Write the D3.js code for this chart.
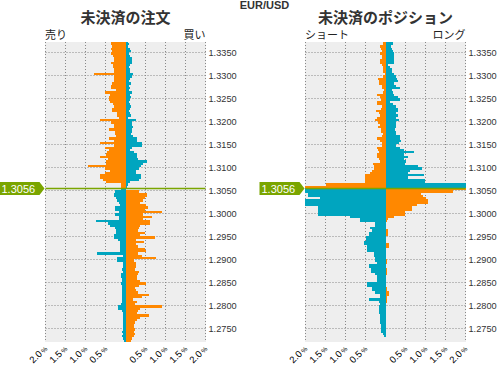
<!DOCTYPE html>
<html><head><meta charset="utf-8">
<script src="https://cdn.jsdelivr.net/npm/d3@7"></script>
<style>html,body{margin:0;padding:0;background:#fff;} svg{display:block;}</style>
</head><body><svg id="c" width="497" height="365"></svg>
<script>
// ---------- data ----------
const pair = "EUR/USD";
const currentPrice = 1.3056;
const panelTitles = ["未決済の注文", "未決済のポジション"];
const sideLabels = [["売り", "買い"], ["ショート", "ロング"]];
const priceTicks = [1.3350, 1.3300, 1.3250, 1.3200, 1.3150, 1.3100, 1.3050, 1.3000, 1.2950, 1.2900, 1.2850, 1.2800, 1.2750];
const pctTicks = [-2, -1.5, -1, -0.5, 0, 0.5, 1, 1.5, 2];
const pctTickLabels = ["2.0", "1.5", "1.0", "0.5", "", "0.5", "1.0", "1.5", "2.0"];
const bucketTop = 1.3370;      // price of the first (highest) bucket
const bucketSize = 0.0005;     // bucket width in price
const priceMin = 1.2720, priceMax = 1.33725;

// open orders (%): left side / right side, from the top bucket down
const orderLeft = [0.37,
 0.375,0.35,0.36,0.35,0.375,0.32,0.30,0.30,0.375,0.32,0.325,0.28,0.30,0.80,0.30,0.30,0.28,0.34,0.36,0.375,
 0.25,0.525,0.40,0.42,0.425,0.40,0.325,0.30,0.35,0.35,0.225,0.22,0.175,0.65,0.375,0.28,0.28,0.425,0.275,0.27,
 0.25,0.425,0.28,0.65,0.30,0.525,0.42,0.47,0.48,0.65,0.44,0.50,0.48,0.95,0.52,0.40,0.51,0.65,0.65,
 0.57,0.50,0.125,0.125,
 0.11,
 0.275,0.30,0.30,0.25,0.21,0.175,0.15,0.275,0.275,0.175,0.275,0.175,0.175,0.75,0.45,0.38,0.275,0.25,0.25,0.30,
 0.30,0.20,0.15,0.15,0.15,0.15,0.15,0.72,0.075,0.225,
 0.225,0.075,0.075,0.075,0.10,0.075,0.12,0.125,0.10,0.10,0.125,0.10,0.10,0.10,0.10,0.10,0.10,0.10,0.10,
 0.12,0.20,0.20,0.08,0.06,0.06,0.06,0.06,0.06,0.06,0.06,0.06,0.08,0.06,0.08,0.06,0.05];
const orderRight = [0.07,
 0.075,0.067,0.10,0.125,0.083,0.117,0.15,0.15,0.15,0.117,0.083,0.10,0.117,0.175,0.167,0.10,0.083,0.125,0.083,0.10,
 0.09,0.15,0.117,0.125,0.10,0.083,0.10,0.125,0.11,0.09,0.117,0.125,0.05,0.25,0.15,0.16,0.175,0.15,0.15,0.133,
 0.183,0.275,0.283,0.40,0.40,0.15,0.117,0.20,0.275,0.275,0.31,0.525,0.43,0.38,0.33,0.25,0.25,0.375,0.375,
 0.325,0.117,0.05,0.04,
 0,
 0.325,0.54,0.54,0.475,0.43,0.35,0.52,0.57,0.475,0.92,0.44,0.67,0.43,0.62,0.62,0.37,0.33,0.32,0.475,0.35,
 0.74,0.27,0.47,0.27,0.30,0.49,0.50,0.32,0.40,0.77,
 0.20,0.25,0.25,0.25,0.225,0.34,0.30,0.275,0.28,0.37,0.52,0.33,0.24,0.25,0.32,0.58,0.40,0.19,0.28,
 0.24,0.92,0.36,0.30,0.28,0.59,0.35,0.28,0.24,0.20,0.20,0.24,0.22,0.24,0.20,0.15,0.13];

// open positions (%): left side / right side
const positionLeft = [0.07,
 0.067,0.15,0.125,0.10,0.15,0.10,0.10,0.15,0.15,0.10,0.067,0.067,0.067,0.025,0.067,0.20,0.175,0.175,0.10,0.10,
 0.04,0.067,0.225,0.15,0.12,0.225,0.225,0.10,0.12,0.25,0.17,0.15,0.225,0.275,0.20,0.15,0.20,0.125,0.125,0.067,
 0.10,0.225,0.15,0.10,0.10,0.225,0.20,0.17,0.225,0.225,0.175,0.15,0.325,0.30,0.30,0.35,0.40,0.525,0.525,
 0.525,0.525,1.48,2.5,
 2.5,2.5,1.93,1.93,1.63,2.5,2.5,2.5,1.69,1.69,1.69,1.69,0.9,0.65,0.65,0.275,0.275,0.4,0.33,0.425,
 0.425,0.5,0.5,0.55,0.55,0.47,0.47,0.47,0.3,0.3,0.275,0.275,0.22,0.425,0.425,0.37,0.37,0.275,0.22,0.22,
 0.22,0.47,0.47,0.35,0.35,0.275,0.15,0.15,0.425,0.17,0.15,0.17,0.17,0.17,0.17,0.15,0.14,0.14,0.14,0.12,
 0.12,0.12,0.12,0.06,0.05,0,0];
const positionRight = [0.18,
 0.18,0.125,0.167,0.18,0.20,0.20,0.20,0.20,0.20,0.06,0.12,0.15,0.15,0.22,0.25,0.28,0.30,0.22,0.25,0.35,
 0.15,0.18,0.20,0.32,0.35,0.12,0.18,0.25,0.30,0.32,0.27,0.30,0.25,0.325,0.27,0.25,0.25,0.23,0.27,0.27,
 0.35,0.35,0.375,0.33,0.25,0.35,0.45,0.70,0.45,0.57,0.47,0.52,0.48,0.80,0.92,0.60,0.55,0.95,0.55,
 0.975,0.975,2.5,2.5,
 2.5,1.68,0.88,0.93,1.0,1.05,1.05,0.78,0.65,0.65,0.48,0.48,0.2,0.05,0.03,
 0,0,0, 0.05,0.05,0.05, 0,0,0, 0.08,0.08, 0,0,0,0,0, 0.03,0.03, 0,0, 0.03,0.03,0.03,
 0,0,0,0,0, 0.03,0.03, 0.08,0.08, 0.03,0.03,0.03,
 0,0,0,0,0,0,0,0,0,0,0,0,0,0,0,0,0];

const bucketPrices = orderLeft.map((_, i) => +(bucketTop - i * bucketSize).toFixed(4));

// ---------- style ----------
const ORANGE = "#ff8800", TEAL = "#00a5bf", GREEN = "#7aa500", BG = "#eeeeee", GRID = "#888";
const LATIN = "'Liberation Sans', Arial, sans-serif";
const CJK = "'Noto Sans CJK JP', sans-serif";

const svg = d3.select("#c");
const y = d3.scaleLinear().domain([priceMin, priceMax]).range([342, 42]);
const plotTop = 42, plotBottom = 342;

svg.append("text").attr("x", 264.5).attr("y", 9).attr("text-anchor", "middle")
  .attr("font-family", LATIN).attr("font-weight", "bold").attr("font-size", 11).attr("fill", "#333").text(pair);

const defs = svg.append("defs");

const panels = [
  {x0: 45.5, left: orderLeft, right: orderRight},
  {x0: 305.5, left: positionLeft, right: positionRight}
];

panels.forEach((p, pi) => {
  const x = d3.scaleLinear().domain([-2, 2]).range([p.x0, p.x0 + 160]);
  const g = svg.append("g");
  const clipId = "clip" + pi;
  defs.append("clipPath").attr("id", clipId).append("rect")
    .attr("x", x(-2) - 0.5).attr("y", plotTop).attr("width", 161).attr("height", plotBottom - plotTop);

  g.append("rect").attr("x", x(-2) - 0.5).attr("y", plotTop).attr("width", 161).attr("height", plotBottom - plotTop).attr("fill", BG);

  // grid
  g.append("g").selectAll("line").data(priceTicks).join("line")
    .attr("x1", x(-2)).attr("x2", x(2)).attr("y1", d => Math.round(y(d)) + 0.5).attr("y2", d => Math.round(y(d)) + 0.5)
    .attr("stroke", GRID).attr("stroke-dasharray", "1,2");
  g.append("g").selectAll("line").data(pctTicks.filter(d => d !== 0)).join("line")
    .attr("x1", d => x(d)).attr("x2", d => x(d)).attr("y1", plotTop).attr("y2", plotBottom)
    .attr("stroke", GRID).attr("stroke-dasharray", "1,2");

  // bars
  const above = i => bucketPrices[i] >= 1.3055;
  const bars = g.append("g").attr("clip-path", `url(#${clipId})`).attr("shape-rendering", "crispEdges");
  bars.selectAll("rect.l").data(p.left).join("rect").attr("class", "l")
    .attr("x", d => x(-Math.min(d, 2.2))).attr("width", d => x(0) - x(-Math.min(d, 2.2)))
    .attr("y", (d, i) => y(bucketPrices[i] + bucketSize)).attr("height", (d, i) => y(bucketPrices[i]) - y(bucketPrices[i] + bucketSize))
    .attr("fill", (d, i) => above(i) ? ORANGE : TEAL);
  bars.selectAll("rect.r").data(p.right).join("rect").attr("class", "r")
    .attr("x", x(0)).attr("width", d => x(Math.min(d, 2.2)) - x(0))
    .attr("y", (d, i) => y(bucketPrices[i] + bucketSize)).attr("height", (d, i) => y(bucketPrices[i]) - y(bucketPrices[i] + bucketSize))
    .attr("fill", (d, i) => above(i) ? TEAL : ORANGE);

  // current price line
  const cy = Math.round(y(currentPrice)) + 0.5;
  g.append("line").attr("x1", x(-2)).attr("x2", x(2)).attr("y1", cy).attr("y2", cy)
    .attr("stroke", GREEN).attr("stroke-width", 1.5);

  // tag
  const tx = x(-2);
  g.append("path").attr("d", `M${tx - 46},${cy - 6.5}H${tx - 6}L${tx - 1},${cy}L${tx - 6},${cy + 6.5}H${tx - 46}Z`).attr("fill", GREEN);
  g.append("text").attr("x", tx - 44).attr("y", cy + 4).attr("font-family", LATIN).attr("font-size", 11)
    .attr("fill", "#fff").text(currentPrice.toFixed(4));

  // y axis (right)
  const yAxis = d3.axisRight(y).tickValues(priceTicks).tickFormat(d3.format(".4f")).tickSize(0).tickPadding(3);
  const ya = g.append("g").attr("transform", `translate(${x(2)},0)`).call(yAxis);
  ya.select(".domain").remove();
  ya.selectAll("text").attr("font-family", LATIN).attr("font-size", 9.2).attr("fill", "#333");

  // x axis (bottom, rotated)
  const xAxis = d3.axisBottom(x).tickValues(pctTicks).tickFormat((d, i) => pctTickLabels[i]).tickSize(0);
  const xa = g.append("g").attr("transform", `translate(0,${plotBottom})`).call(xAxis);
  xa.select(".domain").remove();
  xa.selectAll("text").each(function(d, i) {
    const t = d3.select(this);
    const lab = pctTickLabels[i];
    t.text(null);
    if (!lab) return;
    t.append("tspan").text(lab);
    t.append("tspan").attr("font-size", 6.5).attr("dx", 1.5).text("%");
  });
  xa.selectAll("text").attr("font-family", LATIN).attr("font-size", 9.5).attr("fill", "#000")
    .attr("text-anchor", "end").attr("dy", "0.35em").attr("y", 0)
    .attr("transform", "translate(-0.5,5) rotate(-45)");

  // titles and side labels
  g.append("text").attr("x", x(0)).attr("y", 23).attr("text-anchor", "middle")
    .attr("font-family", CJK).attr("font-weight", "bold").attr("font-size", 15).attr("fill", "#333").text(panelTitles[pi]);
  g.append("text").attr("x", x(-2) - 0.5).attr("y", 39).attr("font-family", CJK).attr("font-size", 11).attr("fill", "#222").text(sideLabels[pi][0]);
  g.append("text").attr("x", x(2)).attr("y", 39).attr("text-anchor", "end").attr("font-family", CJK).attr("font-size", 11).attr("fill", "#222").text(sideLabels[pi][1]);
});
</script></body></html>
